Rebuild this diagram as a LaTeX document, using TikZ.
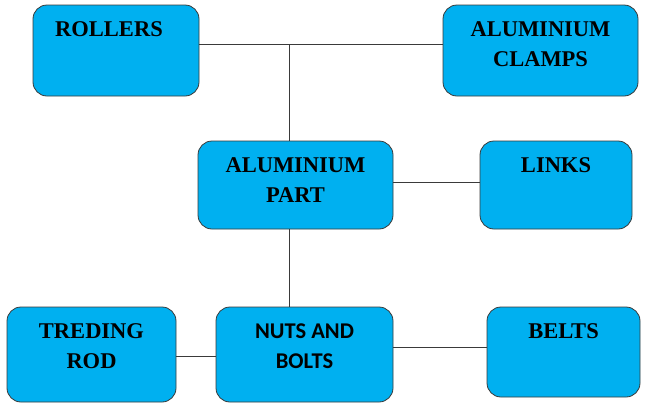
\documentclass[tikz,border=0pt]{standalone}
\usepackage{fontspec}
\setmainfont{Liberation Serif}
\newfontfamily\calibfont{Carlito}
\definecolor{boxblue}{HTML}{00B0F0}
\definecolor{edge}{HTML}{3A3A3A}
\tikzset{
    part/.style={draw=edge, fill=boxblue, rounded corners=14pt, line width=0.8pt, inner sep=0pt},
    tag/.style={anchor=north, yshift=-16.5pt, inner sep=0pt, align=center, font=\bfseries\fontsize{22.5}{30}\selectfont},
    link/.style={draw=edge, line width=0.9pt}
}
\begin{document}
\begin{tikzpicture}[x=1pt, y=-1pt]
\useasboundingbox (0,0) rectangle (645,413);

\node[part, minimum width=166pt, minimum height=91pt, label={[tag, xshift=-7pt]north:ROLLERS}] (rollers) at (116,50.5) {};
\node[part, minimum width=195pt, minimum height=91pt, label={[tag]north:ALUMINIUM\\CLAMPS}] (clamps) at (540.5,50.5) {};
\node[part, minimum width=195pt, minimum height=88pt, label={[tag]north:ALUMINIUM\\PART}] (alpart) at (295.5,185) {};
\node[part, minimum width=152pt, minimum height=88pt, label={[tag]north:LINKS}] (links) at (556,185) {};
\node[part, minimum width=169pt, minimum height=95pt, label={[tag]north:TREDING\\ROD}] (rod) at (91.5,354.5) {};
\node[part, minimum width=177pt, minimum height=95pt, label={[tag, font=\calibfont\bfseries\fontsize{22.5}{30}\selectfont]north:NUTS AND\\BOLTS}] (nuts) at (304.5,354.5) {};
\node[part, minimum width=153pt, minimum height=90pt, label={[tag]north:BELTS}] (belts) at (563.5,352) {};

% connectors
\coordinate (top) at (289,44);
\draw[link] (rollers.east |- top) -- (clamps.west |- top);
\draw[link] (top) -- (top |- alpart.north);
\draw[link] ([yshift=3pt]alpart.east) -- ([yshift=3pt]links.west);
\draw[link] (top |- alpart.south) -- (top |- nuts.north);
\draw[link] ([yshift=-1.5pt]rod.east) -- ([yshift=-1.5pt]nuts.west);
\draw[link] ([yshift=7pt]nuts.east) -- ([yshift=7pt]nuts.east -| belts.west);
\end{tikzpicture}
\end{document}
